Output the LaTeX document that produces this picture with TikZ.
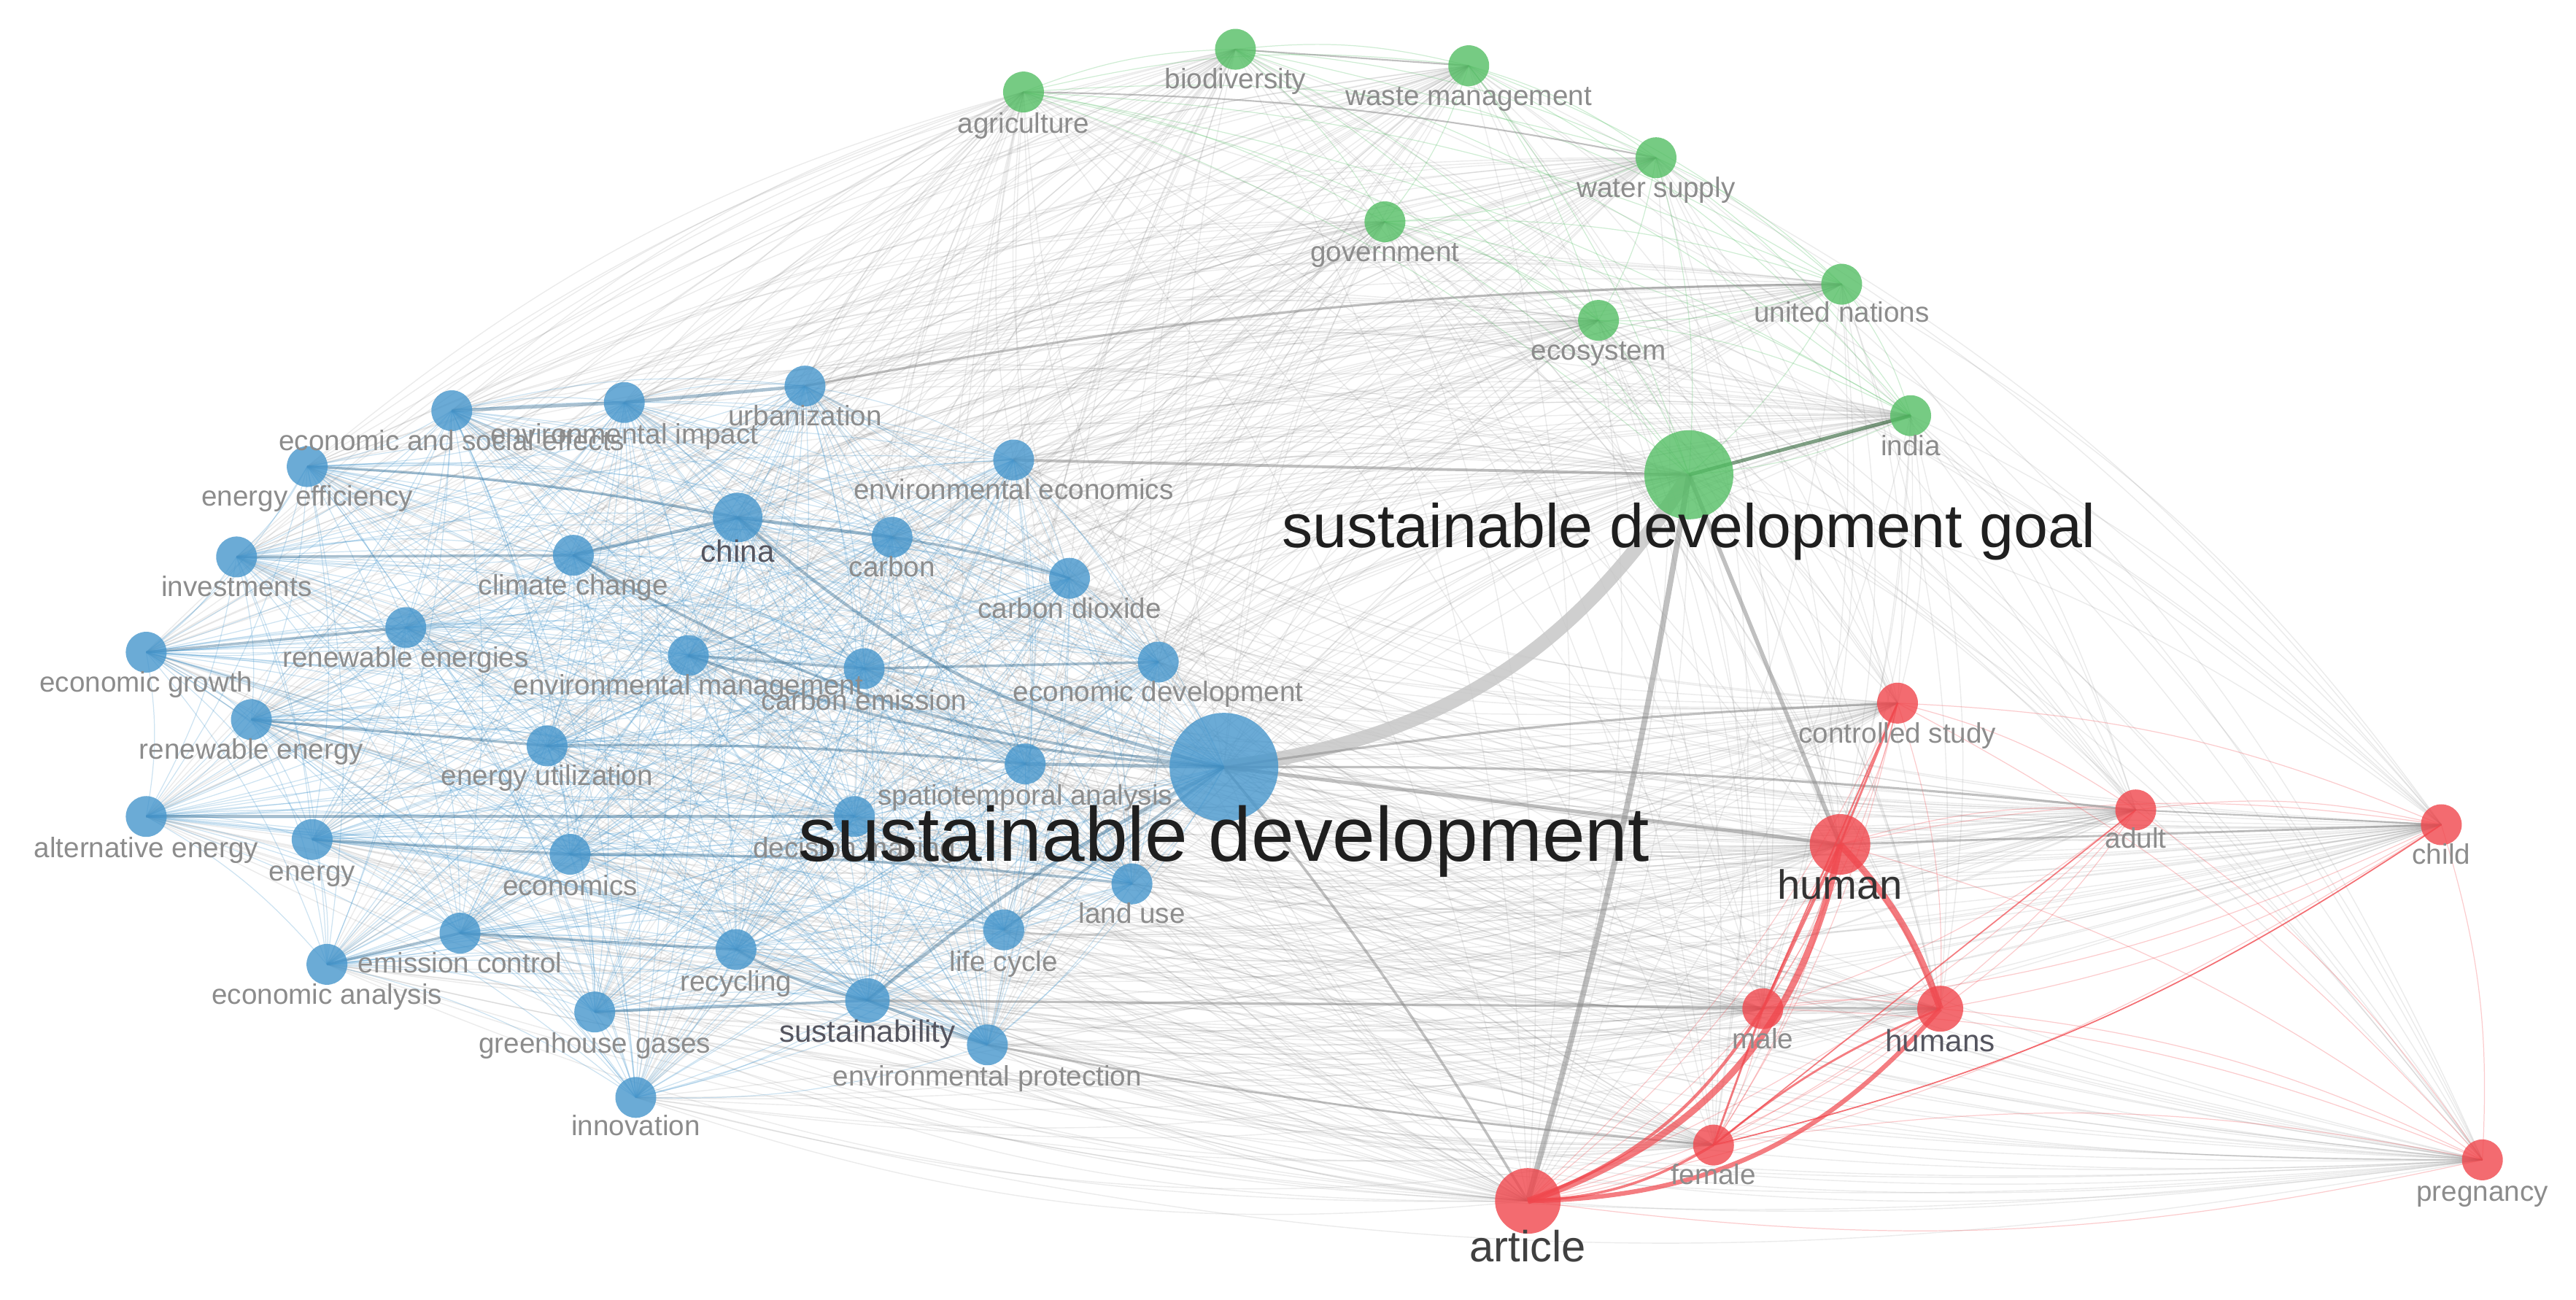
\documentclass[tikz,border=0pt]{standalone}
\usepackage{fontspec}
\setmainfont{Liberation Sans}
\definecolor{cblue}{RGB}{70,150,204}
\definecolor{cgreen}{RGB}{84,190,100}
\definecolor{cred}{RGB}{240,70,76}
\definecolor{labgray}{RGB}{140,140,140}
\definecolor{labdark}{RGB}{85,85,95}
\begin{document}
\begin{tikzpicture}[x=0.02252cm,y={(0cm,-0.02252cm)},
  bnode/.style={circle,fill=cblue,fill opacity=0.8,inner sep=0,minimum size=0.56cm},
  gnode/.style={circle,fill=cgreen,fill opacity=0.8,inner sep=0,minimum size=0.56cm},
  rnode/.style={circle,fill=cred,fill opacity=0.8,inner sep=0,minimum size=0.56cm},
  lab/.style={font=\fontsize{11}{13}\selectfont,text=labgray,anchor=mid,inner sep=0},
  labd/.style={font=\fontsize{12}{14}\selectfont,text=labdark,anchor=mid,inner sep=0},
  ebl/.style={draw=cblue,opacity=0.27,line width=0.35pt},
  egr/.style={draw=cgreen,opacity=0.28,line width=0.35pt},
  ere/.style={draw=cred,opacity=0.28,line width=0.35pt},
  egy/.style={draw=black!60,opacity=0.13,line width=0.4pt},
  hv/.style={draw=black!45,opacity=0.55},
  hb/.style={draw=cblue!70!black,opacity=0.42,line width=1pt},
  hr/.style={draw=cred,opacity=0.7}]
\useasboundingbox (0,0) rectangle (1568,791);
% ---------- coordinates ----------
% green
\coordinate (agri) at (623,56);
\coordinate (biod) at (752,30);
\coordinate (waste) at (894,40);
\coordinate (water) at (1008,96);
\coordinate (gov) at (843,135);
\coordinate (un) at (1121,173);
\coordinate (eco) at (973,195);
\coordinate (india) at (1163,253);
\coordinate (sdg) at (1028,289);
% blue
\coordinate (ese) at (275,250);
\coordinate (envimp) at (380,245);
\coordinate (urban) at (490,235);
\coordinate (enef) at (187,284);
\coordinate (china) at (449,315);
\coordinate (invest) at (144,339);
\coordinate (clim) at (349,338);
\coordinate (carbon) at (543,327);
\coordinate (enveco) at (617,280);
\coordinate (co2) at (651,352);
\coordinate (renes) at (247,382);
\coordinate (egrow) at (89,397);
\coordinate (envman) at (419,399);
\coordinate (cemis) at (526,407);
\coordinate (ecodev) at (705,403);
\coordinate (reny) at (153,438);
\coordinate (enutil) at (333,454);
\coordinate (spat) at (624,465);
\coordinate (sd) at (745,467);
\coordinate (alt) at (89,497);
\coordinate (energy) at (190,511);
\coordinate (dec) at (520,497);
\coordinate (econ) at (347,520);
\coordinate (land) at (689,538);
\coordinate (emc) at (280,568);
\coordinate (ean) at (199,587);
\coordinate (recyc) at (448,578);
\coordinate (life) at (611,566);
\coordinate (ghg) at (362,616);
\coordinate (sust) at (528,609);
\coordinate (envprot) at (601,636);
\coordinate (innov) at (387,668);
% red
\coordinate (cs) at (1155,428);
\coordinate (human) at (1120,514);
\coordinate (adult) at (1300,493);
\coordinate (child) at (1486,502);
\coordinate (male) at (1073,614);
\coordinate (humans) at (1181,614);
\coordinate (female) at (1043,697);
\coordinate (preg) at (1511,706);
\coordinate (art) at (930,731);
\def\greenlist{agri,biod,waste,water,gov,un,eco,india,sdg}
\def\bluelist{ese,envimp,urban,enef,china,invest,clim,carbon,enveco,co2,renes,egrow,envman,cemis,ecodev,reny,enutil,spat,sd,alt,energy,dec,econ,land,emc,ean,recyc,life,ghg,sust,envprot,innov}
\def\redlist{cs,human,adult,child,male,humans,female,preg,art}
% ---------- light edges ----------
\foreach \a in \bluelist {\foreach \b in \greenlist {\draw[egy] (\a) to[bend left=12] (\b);}}
\foreach \a in \redlist {\foreach \b in \bluelist {\draw[egy] (\a) to[bend left=12] (\b);}}
\foreach \a in \greenlist {\foreach \b in \redlist {\draw[egy] (\a) to[bend left=12] (\b);}}
\foreach \a [count=\i] in \bluelist {\foreach \b [count=\j] in \bluelist {\ifnum\j>\i \draw[ebl] (\a) to[bend left=10] (\b);\fi}}
\foreach \a [count=\i] in \greenlist {\foreach \b [count=\j] in \greenlist {\ifnum\j>\i \draw[egr] (\a) to[bend left=10] (\b);\fi}}
\foreach \a [count=\i] in \redlist {\foreach \b [count=\j] in \redlist {\ifnum\j>\i \draw[ere] (\a) to[bend left=10] (\b);\fi}}
% ---------- strong edges ----------
\draw[draw=black!22,opacity=0.85,line width=5.5pt] (sd) to[bend right=25] (sdg);
\draw[hv,line width=2.2pt] (sdg) to[bend left=3] (art);
\draw[hv,line width=1.6pt] (sdg) -- (human);
\draw[hv,line width=1.4pt] (sd) -- (human);
\draw[hv,line width=1pt] (sd) to[bend left=4] (art);
\draw[draw=cgreen!50!black,opacity=0.6,line width=1.4pt] (sdg) -- (india);
\draw[hv,line width=1.1pt] (enveco) -- (sdg);
\draw[hv,line width=0.9pt] (sd) to[bend left=3] (cs);
\draw[hv,line width=0.9pt] (sd) to[bend left=3] (adult);
\draw[hv,line width=0.8pt] (human) -- (child);
\draw[hv,line width=0.6pt] (adult) -- (child);
\draw[hv,line width=0.9pt] (sust) -- (humans);
\draw[hv,line width=0.8pt] (envprot) to[bend right=3] (female);
\draw[hv,line width=0.9pt] (un) to[bend right=5] (urban);
\draw[hv,line width=0.6pt] (biod) -- (waste);
\draw[hv,line width=0.6pt] (water) to[bend right=5] (agri);
% red
\draw[hr,line width=2.6pt] (art) to[bend right=30] (human);
\draw[hr,line width=1.8pt] (art) to[bend right=24] (humans);
\draw[hr,line width=1.2pt] (art) to[bend right=18] (male);
\draw[hr,line width=1pt] (art) to[bend right=14] (female);
\draw[hr,line width=2.6pt] (human) to[bend left=12] (humans);
\draw[hr,line width=1.2pt] (human) -- (male);
\draw[hr,line width=0.8pt] (female) -- (male);
\draw[hr,line width=0.8pt] (female) to[bend left=8] (humans);
\draw[hr,line width=0.8pt] (cs) -- (human);
\draw[hr,line width=0.6pt] (cs) -- (male);
\draw[hr,line width=0.5pt] (female) -- (adult);
\draw[hr,line width=0.5pt] (female) to[bend right=10] (child);
% blue
\draw[hb,line width=1.3pt] (ese) -- (envimp);
\draw[hb,line width=1.3pt] (envimp) -- (urban);
\draw[hb] (enef) to[bend left=4] (china);
\draw[hb] (invest) -- (clim);
\draw[hb,line width=1.3pt] (clim) -- (china);
\draw[hb,line width=1.3pt] (china) -- (carbon);
\draw[hb] (carbon) to[bend left=4] (co2);
\draw[hb] (egrow) -- (renes);
\draw[hb] (reny) -- (enutil);
\draw[hb] (alt) -- (dec);
\draw[hb] (envman) -- (cemis);
\draw[hb] (cemis) -- (ecodev);
\draw[hb,line width=1.3pt] (spat) -- (sd);
\draw[hb,line width=1.2pt] (china) to[bend right=14] (sd);
\draw[hb] (clim) to[bend right=12] (sd);
\draw[hb] (envman) to[bend right=8] (sd);
\draw[hb,line width=1.3pt] (sust) to[bend left=6] (sd);
\draw[hb] (recyc) to[bend right=8] (sust);
\draw[hb] (sust) -- (envprot);
\draw[hb] (emc) -- (recyc);
\draw[hb] (ean) -- (emc);
\draw[hb] (econ) to[bend left=3] (land);
\draw[hb] (ghg) -- (sust);
\draw[hb] (enutil) to[bend left=3] (spat);
\draw[hb] (energy) -- (econ);
\draw[hb] (life) -- (sd);
% ---------- nodes ----------
\foreach \n in {agri,biod,waste,water,gov,un,eco,india} {\node[gnode] at (\n) {};}
\node[gnode,minimum size=1.22cm] (sdg-n) at (sdg) {};
\foreach \n in {ese,envimp,urban,enef,invest,clim,carbon,enveco,co2,renes,egrow,envman,cemis,ecodev,reny,enutil,spat,alt,energy,dec,econ,land,emc,ean,recyc,life,ghg,envprot,innov} {\node[bnode] at (\n) {};}
\node[bnode,minimum size=0.68cm] (china-n) at (china) {};
\node[bnode,minimum size=0.61cm] (sust-n) at (sust) {};
\node[bnode,minimum size=1.49cm] (sd-n) at (sd) {};
\foreach \n in {cs,adult,child,male,female,preg} {\node[rnode] at (\n) {};}
\node[rnode,minimum size=0.63cm] (humans-n) at (humans) {};
\node[rnode,minimum size=0.83cm] (human-n) at (human) {};
\node[rnode,minimum size=0.9cm] (art-n) at (art) {};
% ---------- labels ----------
\node[lab] (agri-l) at (623,77) {agriculture};
\node[lab] (biod-l) at (752,50) {biodiversity};
\node[lab] (waste-l) at (894,60) {waste management};
\node[lab] (water-l) at (1008,116) {water supply};
\node[lab] (gov-l) at (843,155) {government};
\node[lab] (un-l) at (1121,192) {united nations};
\node[lab] (eco-l) at (973,215) {ecosystem};
\node[lab] (india-l) at (1163,273) {india};
\node[lab] (ese-l) at (275,270) {economic and social effects};
\node[lab] (envimp-l) at (380,266) {environmental impact};
\node[lab] (urban-l) at (490,255) {urbanization};
\node[lab] (enef-l) at (187,304) {energy efficiency};
\node[labd] (china-l) at (449,338) {china};
\node[lab] (invest-l) at (144,359) {investments};
\node[lab] (clim-l) at (349,358) {climate change};
\node[lab] (carbon-l) at (543,347) {carbon};
\node[lab] (enveco-l) at (617,300) {environmental economics};
\node[lab] (co2-l) at (651,372) {carbon dioxide};
\node[lab] (renes-l) at (247,402) {renewable energies};
\node[lab] (egrow-l) at (89,417) {economic growth};
\node[lab] (envman-l) at (419,419) {environmental management};
\node[lab] (cemis-l) at (526,428) {carbon emission};
\node[lab] (ecodev-l) at (705,423) {economic development};
\node[lab] (reny-l) at (153,458) {renewable energy};
\node[lab] (enutil-l) at (333,474) {energy utilization};
\node[lab] (spat-l) at (624,486) {spatiotemporal analysis};
\node[lab] (alt-l) at (89,518) {alternative energy};
\node[lab] (energy-l) at (190,532) {energy};
\node[lab] (dec-l) at (520,518) {decision making};
\node[lab] (econ-l) at (347,541) {economics};
\node[lab] (land-l) at (689,558) {land use};
\node[lab] (emc-l) at (280,588) {emission control};
\node[lab] (ean-l) at (199,607) {economic analysis};
\node[lab] (recyc-l) at (448,599) {recycling};
\node[lab] (life-l) at (611,587) {life cycle};
\node[lab] (ghg-l) at (362,637) {greenhouse gases};
\node[labd] (sust-l) at (528,630) {sustainability};
\node[lab] (envprot-l) at (601,657) {environmental protection};
\node[lab] (innov-l) at (387,687) {innovation};
\node[lab] (cs-l) at (1155,448) {controlled study};
\node[lab] (adult-l) at (1300,512) {adult};
\node[lab] (child-l) at (1486,522) {child};
\node[lab] (male-l) at (1073,634) {male};
\node[labd] (humans-l) at (1181,636) {humans};
\node[lab] (female-l) at (1043,717) {female};
\node[lab] (preg-l) at (1511,727) {pregnancy};
\node[anchor=mid,inner sep=0,text=black!88,font=\fontsize{30}{34}\selectfont] (sd-l) at (745,520) {sustainable development};
\node[anchor=mid,inner sep=0,text=black!88,font=\fontsize{24}{28}\selectfont] (sdg-l) at (1028,329) {sustainable development goal};
\node[anchor=mid,inner sep=0,text=black!80,font=\fontsize{16}{19}\selectfont] (human-l) at (1120,543) {human};
\node[anchor=mid,inner sep=0,text=black!75,font=\fontsize{17}{20}\selectfont] (art-l) at (930,764) {article};
\end{tikzpicture}
\end{document}
